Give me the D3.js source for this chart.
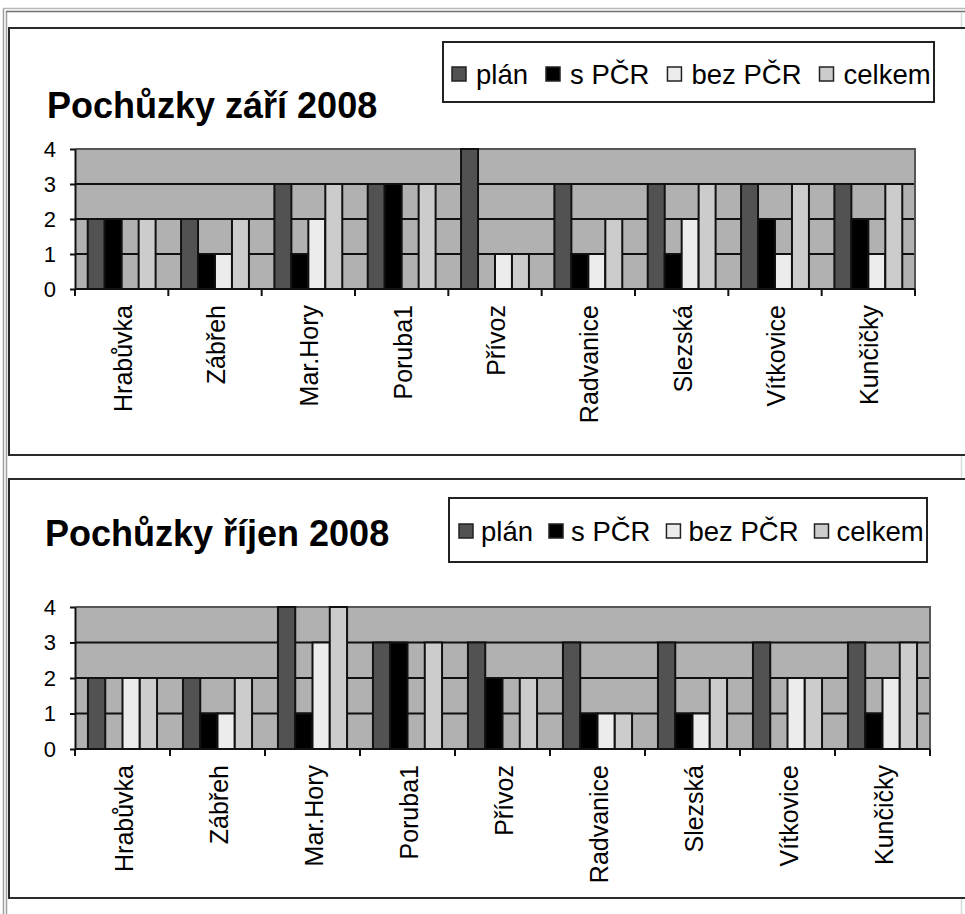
<!DOCTYPE html>
<html>
<head>
<meta charset="utf-8">
<script src="https://cdn.jsdelivr.net/npm/d3@7"></script>
<style>
  html, body { margin: 0; padding: 0; background: #ffffff; }
  svg { display: block; }
  text { font-family: "Liberation Sans", Arial, sans-serif; fill: #000; }
</style>
</head>
<body>
<svg id="chart" width="965" height="914"></svg>
<script>
// ---- data ----
const categories = ["Hrabůvka", "Zábřeh", "Mar.Hory", "Poruba1", "Přívoz", "Radvanice", "Slezská", "Vítkovice", "Kunčičky"];
const seriesNames = ["plán", "s PČR", "bez PČR", "celkem"];
const yTicks = [0, 1, 2, 3, 4];

const zariPlan    = [2, 2, 3, 3, 4, 3, 3, 3, 3];
const zariSPCR    = [2, 1, 1, 3, 0, 1, 1, 2, 2];
const zariBezPCR  = [0, 1, 2, 0, 1, 1, 2, 1, 1];
const zariCelkem  = [2, 2, 3, 3, 1, 2, 3, 3, 3];

const rijenPlan   = [2, 2, 4, 3, 3, 3, 3, 3, 3];
const rijenSPCR   = [0, 1, 1, 3, 2, 1, 1, 0, 1];
const rijenBezPCR = [2, 1, 3, 0, 0, 1, 1, 2, 2];
const rijenCelkem = [2, 2, 4, 3, 2, 1, 2, 2, 3];

const titleZari = "Pochůzky září 2008";
const titleRijen = "Pochůzky říjen 2008";

// ---- styles ----
const seriesColors = ["#525252", "#000000", "#ececec", "#cccccc"];
const plotBg = "#b1b1b1";

const svg = d3.select("#chart");

// outer window frame
svg.append("line").attr("x1", 3.5).attr("y1", 8).attr("x2", 3.5).attr("y2", 914).attr("stroke", "#a0a0a0").attr("stroke-width", 1.5);
svg.append("line").attr("x1", 6.5).attr("y1", 11).attr("x2", 6.5).attr("y2", 914).attr("stroke", "#a0a0a0").attr("stroke-width", 1.5);
svg.append("line").attr("x1", 3).attr("y1", 8.5).attr("x2", 965).attr("y2", 8.5).attr("stroke", "#b8b8b8").attr("stroke-width", 1.5);
svg.append("line").attr("x1", 6).attr("y1", 11.5).attr("x2", 965).attr("y2", 11.5).attr("stroke", "#707070").attr("stroke-width", 1.5);
svg.append("line").attr("x1", 961.5).attr("y1", 12).attr("x2", 961.5).attr("y2", 914).attr("stroke", "#d8d8d8").attr("stroke-width", 1.5);

function drawChart(cfg) {
  const g = svg.append("g");
  // chart box
  g.append("rect").attr("x", cfg.box[0]).attr("y", cfg.box[1])
    .attr("width", cfg.box[2] - cfg.box[0]).attr("height", cfg.box[3] - cfg.box[1])
    .attr("fill", "#fff").attr("stroke", "#2a2a2a").attr("stroke-width", 2);

  // title
  g.append("text").attr("x", cfg.titlePos[0]).attr("y", cfg.titlePos[1])
    .attr("font-size", 36).attr("font-weight", "bold").text(cfg.title);

  // scales
  const x0 = d3.scaleBand().domain(categories).range([cfg.plot.left, cfg.plot.right]).padding(0);
  const step = x0.bandwidth();
  const x1 = d3.scaleBand().domain(seriesNames)
    .range([step * 0.75 / 5.5, step * 4.75 / 5.5]).padding(0);
  const y = d3.scaleLinear().domain([0, 4]).range([cfg.plot.bottom, cfg.plot.top]);

  // plot background
  g.append("rect").attr("x", cfg.plot.left).attr("y", y(4))
    .attr("width", cfg.plot.right - cfg.plot.left).attr("height", y(0) - y(4))
    .attr("fill", plotBg);

  // gridlines
  g.selectAll(".grid").data(yTicks.filter(d => d > 0 && d < 4)).enter().append("line")
    .attr("x1", cfg.plot.left).attr("x2", cfg.plot.right)
    .attr("y1", d => y(d)).attr("y2", d => y(d))
    .attr("stroke", "#111").attr("stroke-width", 2);

  // plot border top/right
  g.append("path")
    .attr("d", `M${cfg.plot.left},${y(4)}H${cfg.plot.right}V${y(0)}`)
    .attr("fill", "none").attr("stroke", "#555").attr("stroke-width", 2);

  // bars
  const rows = categories.map((c, i) => ({ cat: c, vals: cfg.series.map(s => s[i]) }));
  const grp = g.selectAll(".grp").data(rows).enter().append("g")
    .attr("transform", d => `translate(${x0(d.cat)},0)`);
  grp.selectAll("rect").data(d => d.vals.map((v, k) => ({ v, k })).filter(o => o.v > 0))
    .enter().append("rect")
    .attr("x", d => x1(seriesNames[d.k]))
    .attr("y", d => y(d.v))
    .attr("width", x1.bandwidth())
    .attr("height", d => y(0) - y(d.v))
    .attr("fill", d => seriesColors[d.k])
    .attr("stroke", "#111").attr("stroke-width", 2);

  // y axis
  const yAxis = d3.axisLeft(y).tickValues(yTicks).tickFormat(d3.format("d")).tickSizeInner(5).tickSizeOuter(0).tickPadding(14);
  const ya = g.append("g").attr("transform", `translate(${cfg.plot.left},0)`).call(yAxis);
  ya.select(".domain").attr("stroke", "#111").attr("stroke-width", 2);
  ya.selectAll(".tick line").attr("stroke", "#111").attr("stroke-width", 2);
  ya.selectAll(".tick text").attr("font-size", 22).attr("font-family", "Liberation Sans, Arial, sans-serif").attr("fill", "#000");

  // x axis line
  g.append("line").attr("x1", cfg.plot.left).attr("x2", cfg.plot.right)
    .attr("y1", y(0)).attr("y2", y(0)).attr("stroke", "#111").attr("stroke-width", 2);
  // x ticks at category boundaries
  const bounds = categories.map(c => x0(c)).concat([cfg.plot.right]);
  g.selectAll(".xt").data(bounds).enter().append("line")
    .attr("x1", d => d).attr("x2", d => d)
    .attr("y1", y(0)).attr("y2", y(0) + 7)
    .attr("stroke", "#111").attr("stroke-width", 2);
  // x labels rotated
  g.selectAll(".xl").data(categories).enter().append("text")
    .attr("transform", d => `translate(${x0(d) + step / 2 + 10},${y(0) + 16}) rotate(-90)`)
    .attr("text-anchor", "end")
    .attr("font-size", 25)
    .text(d => d);

  // legend
  const L = cfg.legend;
  g.append("rect").attr("x", L.x).attr("y", L.y).attr("width", L.w).attr("height", L.h)
    .attr("fill", "#fff").attr("stroke", "#222").attr("stroke-width", 2);
  const lg = g.append("g");
  let cx = L.sx;
  seriesNames.forEach((name, k) => {
    lg.append("rect").attr("x", cx).attr("y", L.ty - 17).attr("width", 14).attr("height", 14)
      .attr("fill", seriesColors[k]).attr("stroke", "#222").attr("stroke-width", 1.5);
    const t = lg.append("text").attr("x", cx + L.st).attr("y", L.ty).attr("font-size", 27.5).text(name);
    cx = cx + L.st + t.node().getComputedTextLength() + L.gap;
  });
}

drawChart({
  box: [9, 28, 968, 455],
  title: titleZari,
  titlePos: [47, 118],
  plot: { left: 75, right: 915, top: 149, bottom: 289 },
  series: [zariPlan, zariSPCR, zariBezPCR, zariCelkem],
  legend: { x: 443, y: 42, w: 491, h: 60, ty: 84, sx: 452, st: 24, gap: 18 }
});

drawChart({
  box: [9, 479, 968, 898],
  title: titleRijen,
  titlePos: [45, 546],
  plot: { left: 75, right: 930, top: 607, bottom: 749 },
  series: [rijenPlan, rijenSPCR, rijenBezPCR, rijenCelkem],
  legend: { x: 449, y: 498, w: 478, h: 64, ty: 541, sx: 459, st: 22, gap: 16 }
});
</script>
</body>
</html>
